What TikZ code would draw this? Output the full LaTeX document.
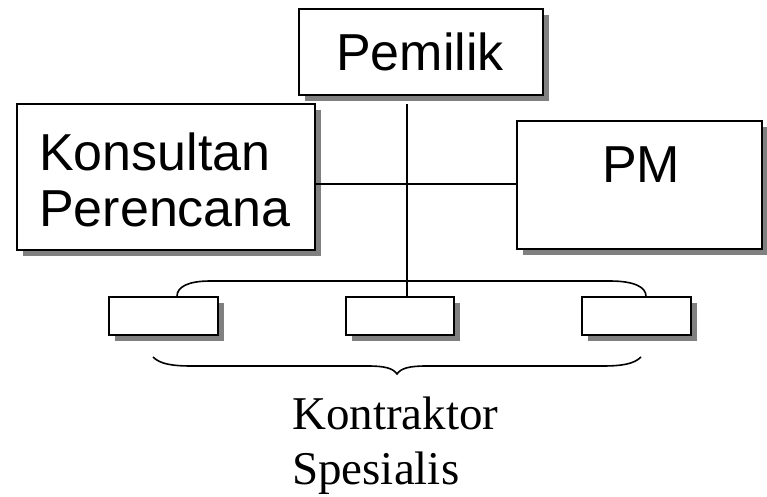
\documentclass[tikz,border=0pt]{standalone}
\usepackage{fontspec}
\setmainfont{Liberation Serif}
\newfontfamily\sansf{Liberation Sans}
\usetikzlibrary{shadows}
\definecolor{shadowgray}{RGB}{128,128,128}
\tikzset{
  orgbox/.style={draw, line width=1.6pt, fill=white, inner sep=0pt,
    drop shadow={shadow xshift=6pt, shadow yshift=-6pt, fill=shadowgray, opacity=1}},
  conn/.style={line width=1.6pt},
  sanslabel/.style={font=\sansf\fontsize{52}{57}\selectfont, inner sep=0pt},
  seriflabel/.style={font=\fontsize{47}{57}\selectfont, inner sep=0pt}
}
\begin{document}
\begin{tikzpicture}[x=1pt,y=-1pt]
\useasboundingbox (0,0) rectangle (767,496);
% boxes
\node[orgbox, minimum width=244pt, minimum height=86pt] (pem) at (421,52) {};
\node[orgbox, minimum width=298pt, minimum height=146pt] (kons) at (166,177) {};
\node[orgbox, minimum width=245pt, minimum height=128pt] (pm) at (639.5,185) {};
\node[orgbox, minimum width=109pt, minimum height=38pt] (k1) at (163.5,316) {};
\node[orgbox, minimum width=108pt, minimum height=38pt] (k2) at (400,316) {};
\node[orgbox, minimum width=109pt, minimum height=38pt] (k3) at (636.5,316) {};
% labels
\node[sanslabel, anchor=base] (tpem) at (420,70) {Pemilik};
\node[sanslabel, anchor=base west] (tkons1) at (39,170) {Konsultan};
\node[sanslabel, anchor=base west] (tkons2) at (39,226) {Perencana};
\node[sanslabel, anchor=base] (tpm) at (641,182) {PM};
\node[seriflabel, anchor=base west] (tk1) at (292,429) {Kontraktor};
\node[seriflabel, anchor=base west] (tk2) at (292,484) {Spesialis};
% connectors
\coordinate (vtop) at (407,104);
\draw[conn] (vtop) -- (k2.north -| vtop);
\draw[conn] (kons.east |- 0,184) -- (pm.west |- 0,184);
\draw[conn] (k1.north -| 177,0) .. controls (177,287) and (188,281) .. (210,281)
  -- (610,281) .. controls (634,281) and (646,287) .. (k3.north -| 646,0);
% brace
\coordinate (bl) at (153,357);
\coordinate (br) at (641,357);
\coordinate (btip) at (397,374);
\draw[conn] (bl) .. controls (160,364) and (172,366) .. (192,366) -- (368,366)
  .. controls (384,366) and (393,368) .. (btip)
  .. controls (401,368) and (410,366) .. (426,366) -- (602,366)
  .. controls (622,366) and (634,364) .. (br);
\end{tikzpicture}
\end{document}
